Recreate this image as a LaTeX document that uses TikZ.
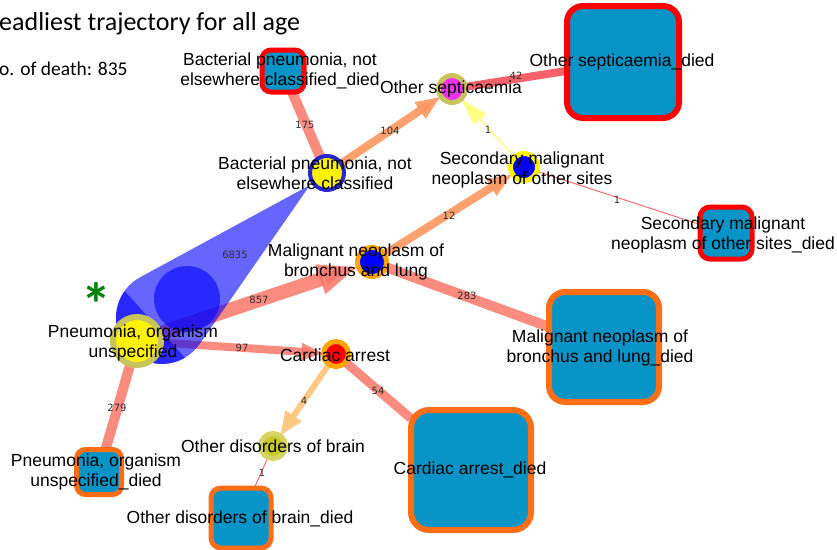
\documentclass[tikz,border=0pt]{standalone}
\usepackage{fontspec}
\setmainfont{Liberation Sans}
\newfontfamily\titlefont{Carlito}
\newfontfamily\numfont{DejaVu Sans}
\usetikzlibrary{arrows.meta,calc}
\pgfdeclarelayer{bg}
\pgfsetlayers{bg,main}
\definecolor{boxfill}{RGB}{8,148,198}
\definecolor{bred}{RGB}{255,0,0}
\definecolor{borange}{RGB}{255,110,20}
\definecolor{khaki}{RGB}{200,196,92}
\definecolor{lkhaki}{RGB}{214,212,100}
\definecolor{oliveN}{RGB}{200,200,40}
\definecolor{salmonE}{RGB}{250,118,105}
\definecolor{redE}{RGB}{245,70,80}
\definecolor{peach}{RGB}{255,150,95}
\definecolor{lpeach}{RGB}{255,198,125}
\definecolor{lyellow}{RGB}{255,255,130}
\definecolor{ringblue}{RGB}{40,40,210}
\definecolor{ringorange}{RGB}{255,165,0}
\definecolor{magentaN}{RGB}{240,50,240}
\definecolor{lblgray}{RGB}{45,45,45}
\definecolor{stargreen}{RGB}{0,128,0}
\tikzset{
  dnode/.style={circle, inner sep=0pt, outer sep=0pt},
  sqbox/.style={rectangle, fill=boxfill, inner sep=0pt, outer sep=0pt},
  lbl/.style={font=\fontsize{17.5}{20.5}\selectfont, align=center, text=black, inner sep=0pt},
  elbl/.style={font=\numfont\fontsize{10}{12}\selectfont, text=lblgray, inner sep=0pt},
  sedge/.style={draw=salmonE, opacity=0.85},
}
\begin{document}
\begin{tikzpicture}[x=1pt,y=1pt]
\useasboundingbox (0,0) rectangle (837,-549);
% title
\node[anchor=base west, font=\titlefont\fontsize{26}{30}\selectfont, inner sep=0pt] (title) at (-1,-30) {eadliest trajectory for all age};
\node[anchor=base west, font=\titlefont\fontsize{19.5}{22}\selectfont, inner sep=0pt] (sub) at (-1,-75) {o. of death: 835};
\node[text=stargreen, font=\titlefont\bfseries\fontsize{60}{60}\selectfont, inner sep=0pt, text height=39pt, text depth=-21pt, anchor=base] (star) at (96,-325) {*};

% died boxes
\node[sqbox, draw=bred, line width=5pt, minimum size=42pt, rounded corners=9pt] (bactD) at (283,-71) {};
\node[sqbox, draw=bred, line width=6pt, minimum size=112pt, rounded corners=16pt] (septD) at (623,-62) {};
\node[sqbox, draw=bred, line width=5pt, minimum size=52pt, rounded corners=10pt] (secmD) at (726,-233) {};
\node[sqbox, draw=borange, line width=6pt, minimum size=110pt, rounded corners=16pt] (malD) at (604,-347) {};
\node[sqbox, draw=borange, line width=6pt, minimum size=120pt, rounded corners=18pt] (cardD) at (471,-470) {};
\node[sqbox, draw=borange, line width=5pt, minimum size=45pt, rounded corners=9pt] (pneuD) at (99,-472) {};
\node[sqbox, draw=borange, line width=5pt, minimum size=60pt, rounded corners=10pt] (brainD) at (241,-518) {};

% disease nodes
\node[dnode, draw=khaki, line width=6pt, fill=yellow, minimum size=48pt] (pneu) at (137,-341) {};
\node[dnode, draw=ringblue, line width=4pt, fill=yellow, minimum size=34pt] (bact) at (327,-173) {};
\node[dnode, draw=khaki, line width=5pt, fill=magentaN, minimum size=27pt] (sept) at (452,-89) {};
\node[dnode, draw=yellow, line width=5pt, fill=blue, minimum size=27pt] (secm) at (524,-167) {};
\node[dnode, draw=ringorange, line width=5pt, fill=blue, minimum size=29pt] (mal) at (372,-262) {};
\node[dnode, draw=ringorange, line width=5pt, fill=red, minimum size=25pt] (card) at (336,-354) {};
\node[dnode, draw=lkhaki, line width=5pt, fill=oliveN, minimum size=25pt] (brain) at (273,-446) {};

\begin{pgfonlayer}{bg}
% edges
\draw[sedge, line width=10pt] (bact) -- (bactD);
\draw[draw=peach, opacity=0.9, line width=8pt, -{Triangle[length=25pt,width=18pt]}] (bact) -- (sept);
\draw[draw=redE, opacity=0.85, line width=8pt] (sept) -- (septD);
\draw[draw=lyellow, line width=1.5pt, -{Triangle[length=28pt,width=16pt]}] (secm) -- (sept);
\draw[draw=redE, opacity=0.8, line width=1pt] (secm) -- (secmD);
\draw[draw=peach, opacity=0.9, line width=8pt, -{Triangle[length=25pt,width=18pt]}] (mal) -- (secm);
\draw[sedge, line width=10pt] (mal) -- (malD);
\draw[sedge, line width=14pt, -{Triangle[length=40pt,width=28pt]}] (pneu) -- (mal);
\draw[sedge, line width=8pt, -{Triangle[length=22pt,width=16pt]}] (pneu) -- (card);
\draw[sedge, line width=10pt] (pneu) -- (pneuD);
\draw[sedge, line width=9pt] (card) -- (cardD);
\draw[draw=lpeach, opacity=0.95, line width=6pt, -{Triangle[length=24pt,width=18pt]}] (card) -- (brain);
\draw[draw=redE, opacity=0.8, line width=1pt] (brain) -- (brainD);
% big blue edge (6835)
\fill[blue, opacity=0.6] (310,-185) -- (139.9,-277.4) arc[start angle=118.6, end angle=325.3, radius=46] -- cycle;
\fill[blue, opacity=0.6] (187,-299) circle[radius=33];
\begin{scope}
\clip (63,-223) -- (197,-371) -- (123,-438) -- (-11,-290) -- cycle;
\fill[blue, opacity=0.6] (162,-318) circle[radius=46];
\end{scope}
\end{pgfonlayer}

% edge labels
\node[elbl] (l6835) at (235,-255) {6835};
\node[elbl] (l857) at (259,-300) {857};
\node[elbl] (l97) at (242,-348) {97};
\node[elbl] (l279) at (117,-408) {279};
\node[elbl] (l175) at (305,-125) {175};
\node[elbl] (l104) at (390,-131) {104};
\node[elbl] (l42) at (516,-76) {42};
\node[elbl] (l1a) at (488,-130) {1};
\node[elbl] (l1b) at (617,-200) {1};
\node[elbl] (l12) at (449,-216) {12};
\node[elbl] (l283) at (467,-296) {283};
\node[elbl] (l54) at (378,-391) {54};
\node[elbl] (l4) at (304,-401) {4};
\node[elbl] (l1c) at (262,-473) {1};

% node labels
\node[lbl] (bactD-l) at (280,-71) {Bacterial pneumonia, not\\elsewhere classified\_died};
\node[lbl] (bact-l) at (315,-173) {Bacterial pneumonia, not\\elsewhere classified};
\node[lbl] (sept-l) at (451,-89) {Other septicaemia};
\node[lbl] (septD-l) at (622,-62) {Other septicaemia\_died};
\node[lbl] (secm-l) at (522,-170) {Secondary malignant\\neoplasm of other sites};
\node[lbl] (secmD-l) at (723,-235) {Secondary malignant\\neoplasm of other sites\_died};
\node[lbl] (mal-l) at (356,-262) {Malignant neoplasm of\\bronchus and lung};
\node[lbl] (pneu-l) at (133,-343) {Pneumonia, organism\\unspecified};
\node[lbl] (card-l) at (335,-355) {Cardiac arrest};
\node[lbl] (brain-l) at (273,-446) {Other disorders of brain};
\node[lbl] (brainD-l) at (240,-519) {Other disorders of brain\_died};
\node[lbl] (pneuD-l) at (96,-472) {Pneumonia, organism\\unspecified\_died};
\node[lbl] (malD-l) at (600,-348) {Malignant neoplasm of\\bronchus and lung\_died};
\node[lbl] (cardD-l) at (470,-470) {Cardiac arrest\_died};
\end{tikzpicture}
\end{document}
